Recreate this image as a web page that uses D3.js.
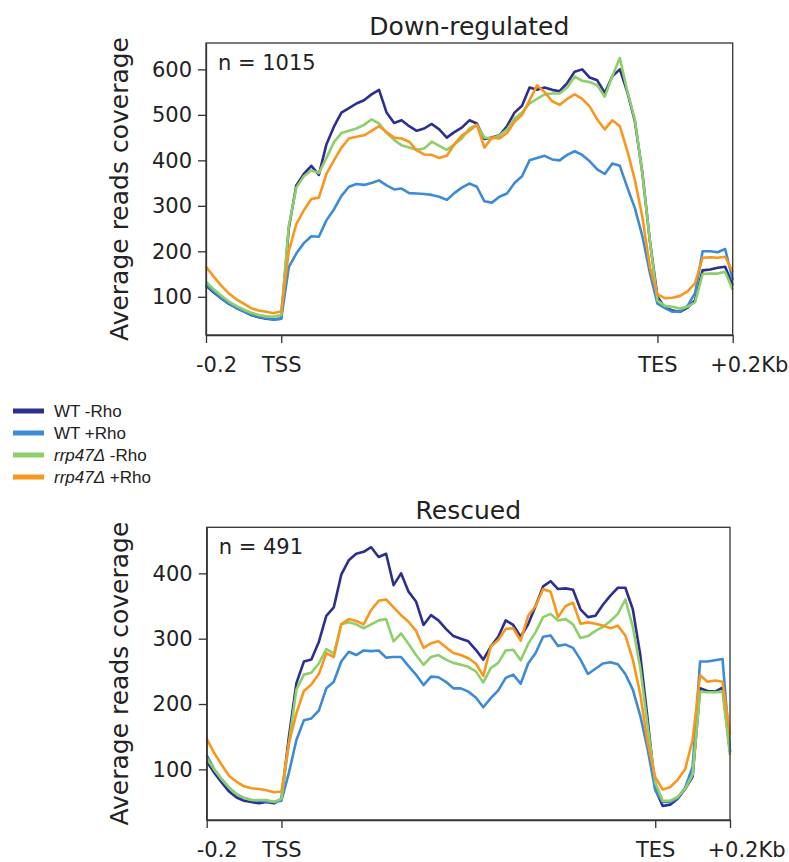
<!DOCTYPE html>
<html>
<head>
<meta charset="utf-8">
<script src="https://cdn.jsdelivr.net/npm/d3@7"></script>
<style>
  body { margin: 0; background: #fff; }
  svg { display: block; }
</style>
</head>
<body>
<div id="chart"></div>
<script>
// bins along the scaled region, in bp: -200 .. TSS(0) .. TES(1000) .. +200
const bins = d3.range(-200, 1201, 20)

const seriesNames = ["WT -Rho", "WT +Rho", "rrp47\u0394 -Rho", "rrp47\u0394 +Rho"]
const seriesColors = ["#2c2f8e", "#3d8bd6", "#8dd06a", "#f8961e"]

const xTickValues = [-200, 0, 1000, 1200]
const xTickLabels = ["-0.2", "TSS", "TES", "+0.2Kb"]

// Down-regulated panel
const downTicks = [100, 200, 300, 400, 500, 600]
const downWtMinus = [125,110,97,85,76,68,60,55,52,50,52,
  250,345,370,388,368,435,474,505,515,525,
  532,545,555,505,482,488,475,465,470,480,
  468,450,462,472,488,481,447,450,455,475,
  505,520,560,555,560,555,552,570,595,600,
  582,576,548,585,600,550,486,372,222,100,
  76,70,67,76,92,158,160,164,166,125]
const downWtPlus = [128,112,98,86,76,68,61,56,53,50,52,
  165,195,218,233,232,268,292,322,342,348,
  346,350,356,345,336,338,328,327,326,324,
  320,313,328,340,349,342,310,307,320,327,
  350,365,400,405,410,402,400,412,420,412,
  398,380,370,393,388,340,295,233,152,85,
  75,67,68,80,108,200,200,198,205,137]
const downRrpMinus = [133,117,103,90,80,72,65,60,57,56,60,
  255,340,365,378,372,405,440,460,465,470,
  478,490,481,460,445,433,428,423,426,441,
  432,423,435,448,470,478,450,448,455,468,
  492,505,525,535,545,547,547,560,584,575,
  572,565,540,585,625,552,490,370,222,92,
  80,78,74,78,88,150,151,151,155,115]
const downRrpPlus = [166,145,125,108,95,85,75,70,67,64,68,
  200,260,290,315,318,370,400,428,448,452,
  455,465,475,462,450,448,441,422,413,412,
  405,410,435,455,465,478,428,450,448,460,
  485,500,532,565,550,530,522,535,545,535,
  518,490,468,488,475,420,357,275,165,105,
  97,98,102,112,130,186,187,186,188,155]

// Rescued panel
const rescTicks = [100, 200, 300, 400]
const rescWtMinus = [112,95,80,66,57,52,50,48,50,48,55,
  150,232,265,268,295,335,348,398,420,430,
  433,440,425,430,382,400,372,357,321,336,
  328,315,304,300,296,283,268,288,303,328,
  321,303,322,350,380,388,376,377,375,345,
  333,335,352,366,378,378,345,275,175,70,
  44,46,55,70,89,224,220,219,225,127]
const rescWtPlus = [122,100,85,72,62,56,53,52,51,50,52,
  95,145,175,178,190,224,234,265,280,275,
  282,281,282,271,272,272,258,245,229,242,
  241,234,224,224,219,210,195,209,221,240,
  245,231,262,278,303,305,289,291,286,268,
  246,254,262,264,261,246,222,182,130,68,
  50,50,56,72,104,265,265,267,269,127]
const rescRrpMinus = [117,100,85,72,62,56,53,53,53,50,55,
  140,222,245,248,262,284,277,322,325,322,
  316,322,328,330,296,308,292,275,260,272,
  275,268,263,260,257,250,233,255,263,282,
  283,267,292,310,333,338,328,330,322,301,
  304,312,318,327,338,360,318,255,165,80,
  52,52,58,70,92,219,218,218,219,122]
const rescRrpPlus = [147,125,107,90,81,74,71,70,68,65,66,
  140,186,220,230,246,278,272,322,330,327,
  322,344,358,360,348,336,326,312,286,293,
  296,287,278,275,270,262,243,288,298,315,
  316,297,335,350,376,372,333,350,355,323,
  325,323,320,316,320,305,268,215,140,88,
  69,73,84,100,145,244,234,236,234,153]

const W = 789, H = 862
const font = "'DejaVu Sans', sans-serif"

const svg = d3.select("#chart")
  .append("svg")
    .attr("width", W)
    .attr("height", H)

const panels = [
  {
    title: "Down-regulated", n: "n = 1015",
    left: 206, right: 732.7, top: 43, bottom: 335,
    yDomain: [16, 658], yTicks: downTicks,
    series: [downWtMinus, downWtPlus, downRrpMinus, downRrpPlus]
  },
  {
    title: "Rescued", n: "n = 491",
    left: 206.7, right: 730, top: 527.3, bottom: 820,
    yDomain: [22.5, 470.5], yTicks: rescTicks,
    series: [rescWtMinus, rescWtPlus, rescRrpMinus, rescRrpPlus]
  }
]

panels.forEach(drawPanel)

function drawPanel(p){
  const g = svg.append("g")

  const x = d3.scaleLinear()
    .domain([-200, 1200])
    .range([p.left, p.right])

  const y = d3.scaleLinear()
    .domain(p.yDomain)
    .range([p.bottom, p.top])

  const line = d3.line()
    .x((d, i) => x(bins[i]))
    .y(d => y(d))

  // profile lines, drawn in legend order
  g.selectAll(".profile")
    .data(p.series)
    .join("path")
      .attr("class", "profile")
      .attr("fill", "none")
      .attr("stroke", (d, i) => seriesColors[i])
      .attr("stroke-width", 2.6)
      .attr("stroke-linejoin", "round")
      .attr("d", line)

  // frame
  g.append("rect")
    .attr("x", p.left)
    .attr("y", p.top)
    .attr("width", p.right - p.left)
    .attr("height", p.bottom - p.top)
    .attr("fill", "none")
    .attr("stroke", "#333")
    .attr("stroke-width", 1.3)

  const yAxis = g.append("g")
    .attr("transform", `translate(${p.left},0)`)
    .call(d3.axisLeft(y).tickValues(p.yTicks).tickSize(8).tickSizeOuter(0).tickPadding(6))

  const xAxis = g.append("g")
    .attr("transform", `translate(0,${p.bottom})`)
    .call(d3.axisBottom(x).tickValues(xTickValues).tickSize(8).tickSizeOuter(0).tickPadding(14)
      .tickFormat((d, i) => xTickLabels[i]))

  for(let ax of [yAxis, xAxis]){
    ax.select(".domain").attr("stroke", "#333").attr("stroke-width", 1.3)
    ax.selectAll(".tick line").attr("stroke", "#333").attr("stroke-width", 1.3)
    ax.selectAll(".tick text")
      .attr("fill", "#222")
      .style("font-family", font)
      .style("font-size", "21px")
  }
  // edge labels sit a bit to the right of their ticks
  xAxis.selectAll(".tick text").attr("dx", (d, i) => i == 0 ? 10 : (i == 3 ? 16 : 0))

  // title
  g.append("text")
    .attr("x", (p.left + p.right) / 2)
    .attr("y", p.top - 8)
    .attr("text-anchor", "middle")
    .attr("fill", "#222")
    .style("font-family", font)
    .style("font-size", "25px")
    .text(p.title)

  // n label
  g.append("text")
    .attr("x", p.left + 12)
    .attr("y", p.top + 27)
    .attr("fill", "#222")
    .style("font-family", font)
    .style("font-size", "21px")
    .text(p.n)

  // y label
  g.append("text")
    .attr("transform", `translate(128,${(p.top + p.bottom) / 2}) rotate(-90)`)
    .attr("text-anchor", "middle")
    .attr("fill", "#222")
    .style("font-family", font)
    .style("font-size", "25px")
    .text("Average reads coverage")
}

// legend between the panels
const legend = svg.append("g")
  .attr("transform", "translate(13,411)")

const rows = legend.selectAll("g")
  .data(seriesNames)
  .join("g")
    .attr("transform", (d, i) => `translate(0,${i * 22})`)

rows.append("line")
  .attr("x1", 0)
  .attr("x2", 31)
  .attr("stroke", (d, i) => seriesColors[i])
  .attr("stroke-width", 5)

const labels = rows.append("text")
  .attr("x", 41)
  .attr("y", 6)
  .attr("fill", "#222")
  .style("font-family", "'Liberation Sans', Arial, sans-serif")
  .style("font-size", "17px")

labels.each(function(d){
  const t = d3.select(this)
  if(d.startsWith("rrp47")){
    const cut = d.indexOf(" ")
    t.append("tspan").style("font-style", "italic").text(d.slice(0, cut))
    t.append("tspan").text(d.slice(cut))
  }
  else{
    t.text(d)
  }
})
</script>
</body>
</html>
